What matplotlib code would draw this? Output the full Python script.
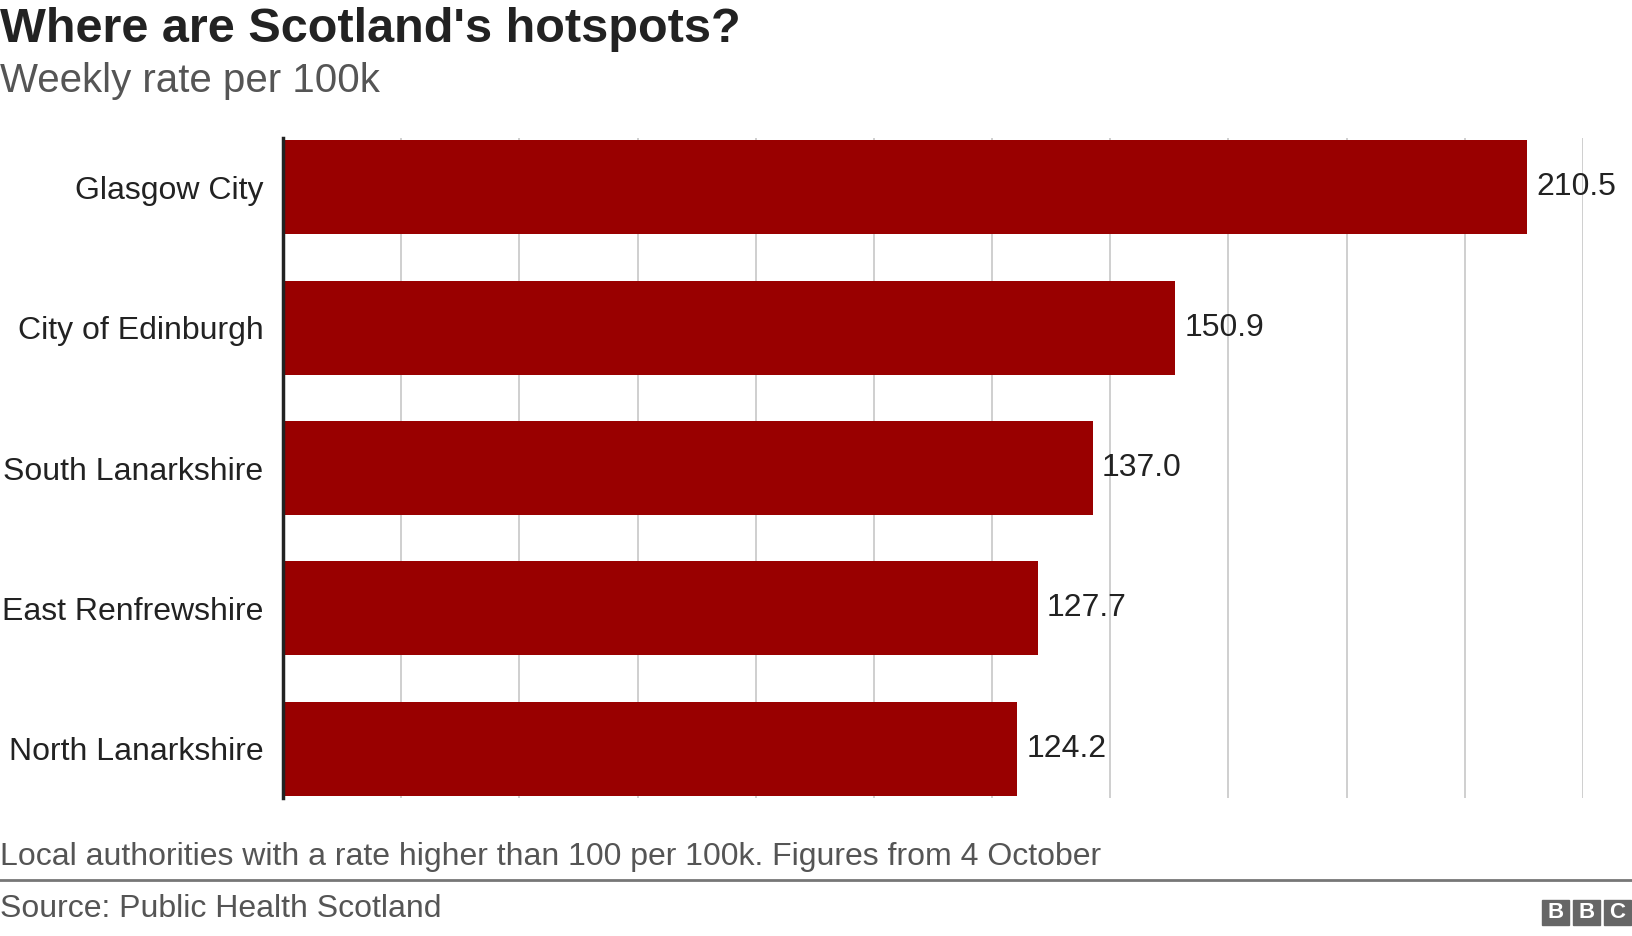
import matplotlib.pyplot as plt
from matplotlib.patches import Rectangle

plt.rcParams['font.family'] = 'Liberation Sans'

areas = ['Glasgow City', 'City of Edinburgh', 'South Lanarkshire', 'East Renfrewshire', 'North Lanarkshire']
rates = [210.5, 150.9, 137.0, 127.7, 124.2]
ticks = list(range(0, 221, 20))

W, H = 1632, 936
fig = plt.figure(figsize=(W / 100, H / 100), dpi=100)
ax = fig.add_axes([283 / W, 1 - 798 / H, (1583 - 283) / W, (798 - 138) / H])

ypos = list(range(len(areas)))
ax.barh(ypos, rates, height=0.67, color='#990000', zorder=2)
for y, v in zip(ypos, rates):
    ax.text(v + 1.6, y, f'{v:.1f}', va='center', ha='left', fontsize=23, color='#222222')
ax.set_yticks(ypos)
ax.set_yticklabels(areas, fontsize=23, color='#222222')
ax.set_ylim(4.35, -0.35)
ax.set_xlim(0, 220)
ax.set_xticks(ticks)
ax.set_xticklabels([])
ax.tick_params(length=0, pad=14)
ax.grid(axis='x', color='#cccccc', lw=1.3, zorder=0)
for s in ['top', 'right', 'bottom']:
    ax.spines[s].set_visible(False)
ax.spines['left'].set_linewidth(2.5)
ax.spines['left'].set_color('#222222')
ax.spines['left'].set_zorder(3)

fig.text(0.0, 1 - 29 / H, "Where are Scotland's hotspots?", fontsize=35, fontweight='bold', va='center', color='#222222')
fig.text(0.0, 1 - 81 / H, 'Weekly rate per 100k', fontsize=29, va='center', color='#555555')
fig.text(0.0, 1 - 857 / H, 'Local authorities with a rate higher than 100 per 100k. Figures from 4 October', fontsize=23, va='center', color='#555555')
fig.add_artist(plt.Line2D([0, 1], [1 - 880 / H, 1 - 880 / H], color='#777777', lw=2, transform=fig.transFigure))
fig.text(0.0, 1 - 909 / H, 'Source: Public Health Scotland', fontsize=23, va='center', color='#555555')

for i, ch in enumerate('BBC'):
    x0 = 1542 + i * 31
    fig.add_artist(Rectangle((x0 / W, 1 - 925 / H), 27 / W, 25 / H, color='#666666', transform=fig.transFigure))
    fig.text((x0 + 13.5) / W, 1 - 912.5 / H, ch, fontsize=16, fontweight='bold', color='white', ha='center', va='center')

fig.savefig('out.png', dpi=100)
